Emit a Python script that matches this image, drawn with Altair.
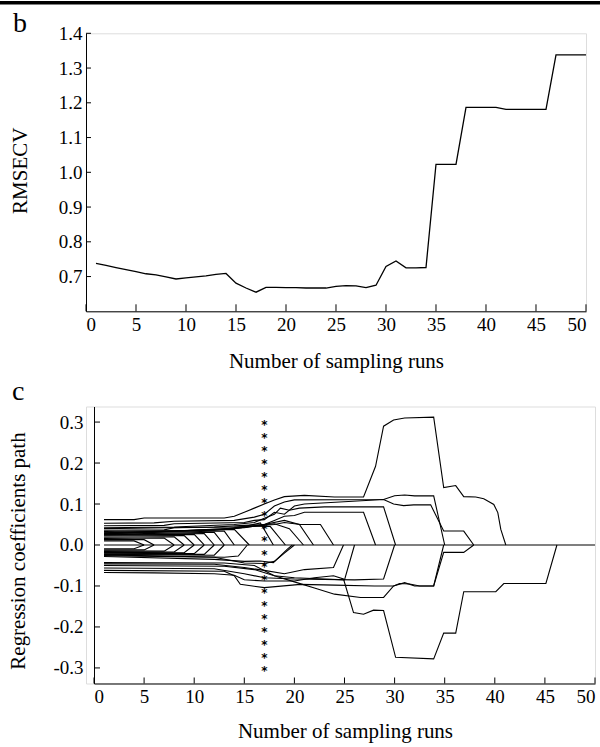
import altair as alt
import pandas as pd

FONT = "Liberation Serif"

# ---------------- panel b data ----------------
runs = list(range(1, 51))
rmsecv = [0.738, 0.732, 0.726, 0.720, 0.714, 0.708, 0.705, 0.699, 0.693, 0.696,
          0.699, 0.702, 0.706, 0.709, 0.681, 0.667, 0.655, 0.669, 0.669, 0.668,
          0.668, 0.667, 0.667, 0.667, 0.672, 0.674, 0.673, 0.668, 0.675, 0.729,
          0.745, 0.725, 0.725, 0.726, 1.023, 1.023, 1.023, 1.187, 1.187, 1.187,
          1.187, 1.181, 1.181, 1.181, 1.181, 1.181, 1.338, 1.338, 1.338, 1.338]

x_ticks = [0, 5, 10, 15, 20, 25, 30, 35, 40, 45, 50]
rmse_ticks = [0.7, 0.8, 0.9, 1.0, 1.1, 1.2, 1.3, 1.4]
coef_ticks = [-0.3, -0.2, -0.1, 0.0, 0.1, 0.2, 0.3]
panel_labels = ["b", "c"]
x_title = "Number of sampling runs"
top_y_title = "RMSECV"
bottom_y_title = "Regression coefficients path"

# ---------------- panel c data ----------------
star_run = 17
star_vals = [0.300, 0.268, 0.237, 0.205, 0.174, 0.142, 0.111, 0.079, 0.047, 0.016,
             -0.016, -0.047, -0.079, -0.111, -0.142, -0.174, -0.205, -0.237, -0.268, -0.300]

zero_path = [[1, 0.0], [50, 0.0]]

# inner coefficients that shrink to zero early (chevrons)
chevron_paths = [
    [[1, 0.010], [4, 0.010], [5, 0.0]],
    [[1, 0.013], [5, 0.013], [6, 0.0]],
    [[1, 0.016], [7, 0.017], [8, 0.0]],
    [[1, 0.019], [8, 0.020], [9, 0.0]],
    [[1, 0.022], [9, 0.023], [10, 0.0]],
    [[1, 0.024], [10, 0.026], [11, 0.0]],
    [[1, 0.025], [11, 0.028], [12, 0.0]],
    [[1, 0.026], [12, 0.031], [13, 0.0]],
    [[1, 0.028], [13, 0.034], [14, 0.0]],
    [[1, 0.030], [14, 0.038], [15.5, 0.0]],
    [[1, -0.009], [4, -0.009], [5, 0.0]],
    [[1, -0.012], [5, -0.012], [6, 0.0]],
    [[1, -0.014], [7, -0.015], [8, 0.0]],
    [[1, -0.016], [8, -0.017], [9, 0.0]],
    [[1, -0.018], [9, -0.019], [10, 0.0]],
    [[1, -0.020], [10, -0.021], [11, 0.0]],
    [[1, -0.022], [11, -0.023], [12, 0.0]],
    [[1, -0.023], [12, -0.025], [13, 0.0]],
    [[1, -0.024], [13, -0.030], [14.4, -0.027], [15.3, 0.0]],
]

# coefficients surviving beyond the chevron zone
survivor_paths = [
    [[1, 0.062], [4, 0.062], [5, 0.066], [13, 0.066], [14, 0.070], [15, 0.080], [16, 0.090],
     [17, 0.100], [18, 0.110], [19, 0.118], [21, 0.121], [24, 0.117], [26.9, 0.117],
     [28.1, 0.192], [28.9, 0.290], [29.9, 0.305], [31, 0.310], [33.9, 0.312], [34.9, 0.140],
     [36.1, 0.145], [36.9, 0.118], [38.1, 0.117], [38.9, 0.113], [39.9, 0.099],
     [40.3, 0.079], [40.6, 0.038], [41.1, 0.0]],
    [[1, 0.053], [6, 0.054], [8, 0.058], [14, 0.060], [16, 0.068], [17, 0.075], [18, 0.095],
     [19, 0.105], [20, 0.110], [28.9, 0.111], [30, 0.120], [31, 0.122], [32, 0.120],
     [33.9, 0.120], [35, 0.0]],
    [[1, 0.047], [7, 0.048], [8, 0.052], [15, 0.055], [16, 0.060], [17, 0.062], [18, 0.080],
     [19, 0.075], [20, 0.095], [21, 0.100], [28.9, 0.111], [29.9, 0.100], [30.9, 0.096],
     [31.9, 0.098], [33.6, 0.098], [34.9, 0.034], [36.9, 0.034], [37.9, 0.0]],
    [[1, 0.042], [8, 0.044], [14, 0.050], [16, 0.055], [17, 0.065], [18, 0.075],
     [18.6, 0.090], [19.5, 0.085], [20.5, 0.090], [23, 0.093], [28.9, 0.093], [30.1, 0.0]],
    [[1, 0.040], [12, 0.044], [15, 0.048], [17, 0.050], [18, 0.060], [19, 0.070],
     [20, 0.072], [21, 0.080], [26.9, 0.080], [28.1, 0.0]],
    [[1, 0.036], [7, 0.037], [8, 0.042], [14, 0.044], [16, 0.046], [18, 0.050], [19, 0.055],
     [20.6, 0.050], [22.6, 0.050], [23.9, 0.0]],
    [[1, 0.033], [9, 0.035], [15, 0.042], [17, 0.050], [19, 0.060], [20.5, 0.050], [21.9, 0.0]],
    [[1, 0.030], [12, 0.036], [15, 0.045], [16.6, 0.054], [17.9, 0.0]],
    [[1, 0.028], [13, 0.038], [16, 0.046], [17.6, 0.045], [19.1, 0.0]],
    [[1, 0.027], [14, 0.040], [16, 0.047], [18, 0.052], [19.5, 0.040], [20.9, 0.0]],
    [[1, -0.067], [6, -0.068], [12, -0.070], [14, -0.074], [15, -0.085], [17, -0.088],
     [20, -0.088], [22, -0.080], [23.9, -0.075], [24.9, -0.083], [25.9, -0.165],
     [26.9, -0.169], [27.9, -0.159], [28.9, -0.160], [30.1, -0.274], [33.9, -0.278],
     [34.9, -0.215], [36.1, -0.215], [36.9, -0.114], [40.1, -0.114], [40.9, -0.094],
     [45.1, -0.094], [46.2, 0.0]],
    [[1, -0.062], [13, -0.064], [14, -0.075], [14.6, -0.096], [17, -0.104], [20.6, -0.096],
     [24, -0.098], [28, -0.100], [29.9, -0.100], [30.5, -0.094], [31.5, -0.095],
     [32.5, -0.100], [33.9, -0.100], [34.9, 0.0]],
    [[1, -0.056], [12, -0.058], [15, -0.070], [17, -0.080], [20, -0.083], [26, -0.085],
     [28.9, -0.083], [30.0, 0.0]],
    [[1, -0.050], [13, -0.052], [16, -0.060], [18, -0.075], [20, -0.090], [22, -0.105],
     [24, -0.120], [26.6, -0.128], [28.9, -0.128], [29.9, -0.100], [31, -0.092],
     [32, -0.100], [33.9, -0.100], [34.9, -0.018], [36.9, -0.018], [37.9, 0.0]],
    [[1, -0.046], [12, -0.047], [15, -0.055], [17, -0.062], [19, -0.070], [21, -0.060],
     [23.9, -0.055], [24.9, 0.0]],
    [[1, -0.043], [13, -0.044], [16, -0.050], [18, -0.075], [20, -0.080], [23, -0.083],
     [25, -0.085], [26, 0.0]],
    [[1, -0.028], [12, -0.035], [15, -0.040], [16.6, -0.039], [17.9, -0.043],
     [19.3, -0.010], [19.8, 0.0]],
    [[1, -0.026], [12, -0.030], [15, -0.044], [17, -0.045], [18, -0.040], [19, -0.020],
     [20, 0.0]],
]

# ---------------- build tables ----------------
rows = []
for pid, path in enumerate([zero_path] + chevron_paths + survivor_paths):
    for k, (r, v) in enumerate(path):
        rows.append({"path": pid, "k": k, "run": r, "coef": v})
coef_df = pd.DataFrame(rows)

top_df = pd.DataFrame({"run": runs, "rmsecv": rmsecv})
xt_df = pd.DataFrame({"run": x_ticks})
yt_top_df = pd.DataFrame({"rmsecv": rmse_ticks})
yt_bot_df = pd.DataFrame({"coef": coef_ticks})
star_df = pd.DataFrame({"run": [star_run] * len(star_vals), "coef": star_vals})
one = pd.DataFrame({"a": [0]})

TOP_W, TOP_H = 500, 278
BOT_W, BOT_H = 509, 277
BOT_X0 = 8

ax_common = dict(labelFont=FONT, labelFontSize=19, labelColor="black",
                 titleFont=FONT, titleFontSize=21, titleFontWeight="normal",
                 titleColor="black", domainColor="black", domainWidth=1,
                 ticks=False, tickSize=0, grid=False)

# ---------------- top panel ----------------
xs_top = alt.Scale(domain=[0, 50], nice=False)
ys_top = alt.Scale(domain=[0.6, 1.4], nice=False, zero=False)
x_axis_top = alt.Axis(values=x_ticks, format="d", title=x_title, titlePadding=16,
                      labelPadding=4, **ax_common)
y_axis_top = alt.Axis(values=rmse_ticks, format=".1f", title=top_y_title, labelPadding=4,
                      titleAngle=270, titleAlign="center", titleBaseline="middle",
                      titleX=-66, titleY=137, **ax_common)
X_top = alt.X("run:Q", scale=xs_top, axis=x_axis_top, title=x_title)
Y_top = alt.Y("rmsecv:Q", scale=ys_top, axis=y_axis_top, title=top_y_title)

top_line = alt.Chart(top_df).mark_line(color="black", strokeWidth=1.3).encode(x=X_top, y=Y_top)
top_xt = alt.Chart(xt_df).mark_rule(color="black", strokeWidth=1).encode(
    x=X_top, y=alt.value(TOP_H), y2=alt.value(TOP_H - 7))
top_yt = alt.Chart(yt_top_df).mark_rule(color="black", strokeWidth=1).encode(
    y=Y_top, x=alt.value(0), x2=alt.value(5))
top_frame = alt.Chart(one).mark_rule(color="black", strokeWidth=3.5).encode(
    x=alt.value(-86), x2=alt.value(514), y=alt.value(-30.5))
top_label = alt.Chart(pd.DataFrame({"lab": [panel_labels[0]]})).mark_text(
    font=FONT, fontSize=28, align="left", baseline="alphabetic", color="black").encode(
    x=alt.value(-73), y=alt.value(-1.5), text="lab:N")

top = alt.layer(top_line, top_xt, top_yt, top_frame, top_label).properties(
    width=TOP_W, height=TOP_H)

# ---------------- bottom panel ----------------
xs_bot = alt.Scale(domain=[0, 50], nice=False, range=[BOT_X0, BOT_W])
ys_bot = alt.Scale(domain=[-0.338, 0.338], nice=False, zero=False)
x_axis_bot = alt.Axis(values=x_ticks, format="d", title=x_title, titlePadding=14,
                      labelPadding=4, titleX=259, **ax_common)
y_axis_bot = alt.Axis(values=coef_ticks,
                      labelExpr="replace(format(datum.value, '.1f'), '\u2212', '-')",
                      title=bottom_y_title, offset=-BOT_X0, labelPadding=11,
                      titleAngle=270, titleAlign="center", titleBaseline="middle",
                      titleX=-76, titleY=144, **ax_common)
X_bot = alt.X("run:Q", scale=xs_bot, axis=x_axis_bot, title=x_title)
Y_bot = alt.Y("coef:Q", scale=ys_bot, axis=y_axis_bot, title=bottom_y_title)

bot_lines = alt.Chart(coef_df).mark_line(color="black", strokeWidth=1.1).encode(
    x=X_bot, y=Y_bot, detail="path:N", order="k:Q")
bot_stars = alt.Chart(star_df).mark_text(text="*", font="DejaVu Sans", fontSize=12,
                                         fontWeight="bold", color="black",
                                         baseline="alphabetic", dy=7).encode(
    x=X_bot, y=Y_bot)
bot_xt = alt.Chart(xt_df).mark_rule(color="black", strokeWidth=1).encode(
    x=X_bot, y=alt.value(BOT_H), y2=alt.value(BOT_H - 6))
bot_yt = alt.Chart(yt_bot_df).mark_rule(color="black", strokeWidth=1).encode(
    y=Y_bot, x=alt.value(BOT_X0), x2=alt.value(BOT_X0 + 6))
bot_label = alt.Chart(pd.DataFrame({"lab": [panel_labels[1]]})).mark_text(
    font=FONT, fontSize=28, align="left", baseline="alphabetic", color="black").encode(
    x=alt.value(-74), y=alt.value(-6.5), text="lab:N")

bottom = alt.layer(bot_lines, bot_stars, bot_xt, bot_yt, bot_label).properties(
    width=BOT_W, height=BOT_H)

chart = alt.vconcat(top, bottom, spacing=95.2, bounds="flush").properties(
    autosize=alt.AutoSizeParams(type="none"),
    padding={"left": 86, "top": 33.3, "right": 514, "bottom": 714},
).configure_view(stroke="transparent", strokeWidth=0).configure(background="white")

chart.save("out.html", embed_options={"renderer": "svg", "actions": False})
